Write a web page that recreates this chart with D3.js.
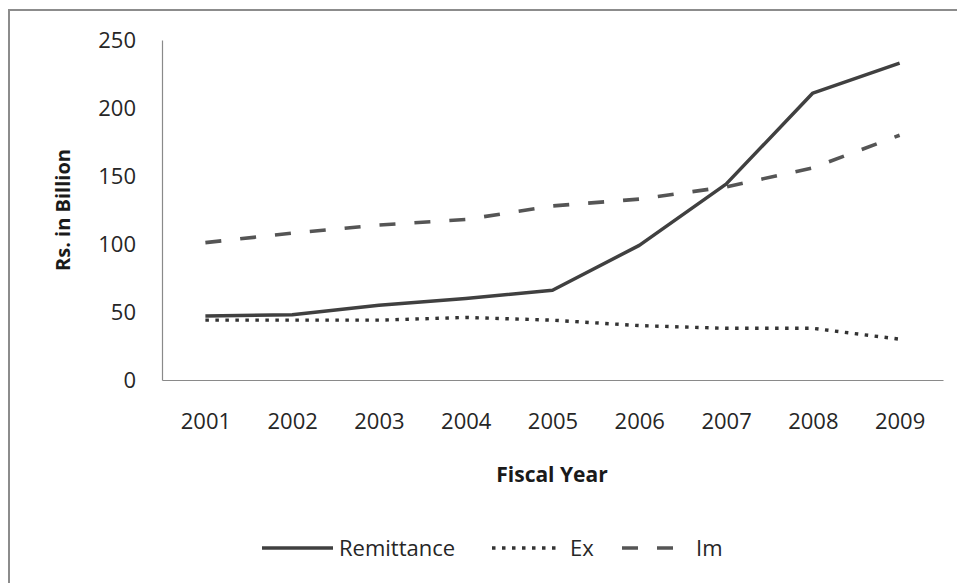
<!DOCTYPE html>
<html><head><meta charset="utf-8">
<script src="https://cdn.jsdelivr.net/npm/d3@7"></script>
<style>
html,body{margin:0;padding:0;background:#fff;}
svg{display:block;font-family:"Open Sans",sans-serif;}
</style></head>
<body><svg id="c" width="957" height="583"></svg>
<script>
const years = ["2001","2002","2003","2004","2005","2006","2007","2008","2009"];
const remittance = [47, 48, 55, 60, 66, 99, 144, 211, 233];
const exportsEx = [44, 44, 44, 46, 44, 40, 38, 38, 30];
const importsIm = [101, 108, 114, 118, 128, 133, 142, 156, 180];
const yTicks = [0, 50, 100, 150, 200, 250];
const seriesNames = ["Remittance", "Ex", "Im"];

const svg = d3.select("#c");
svg.append("path").attr("d","M9,583 V10 H957").attr("fill","none").attr("stroke","#8c8c8c").attr("stroke-width",2);

const x = d3.scalePoint().domain(years).range([162, 943]).padding(0.5);
const y = d3.scaleLinear().domain([0, 250]).range([380, 40]);

const fs = 22;
const gy = svg.append("g").attr("transform","translate(162,0)")
  .call(d3.axisLeft(y).tickValues(yTicks).tickSize(0).tickPadding(26));
const gx = svg.append("g").attr("transform","translate(0,380)")
  .call(d3.axisBottom(x).tickSize(0).tickPadding(33));
[gx, gy].forEach(g => {
  g.select(".domain").attr("stroke","#8a8a8a").attr("stroke-width",1.2);
  g.selectAll("text").attr("font-size",fs).attr("fill","#262626").attr("font-family","'Open Sans', sans-serif");
});

svg.append("text").attr("x",552).attr("y",482).attr("text-anchor","middle")
  .attr("font-size",21).attr("font-weight","bold").attr("fill","#1a1a1a").text("Fiscal Year");
svg.append("text").attr("transform","translate(70,210) rotate(-90)").attr("text-anchor","middle")
  .attr("font-size",20).attr("font-weight","bold").attr("fill","#1a1a1a").text("Rs. in Billion");

const styles = [
  {data: remittance, color:"#404040", w:3.5, dash:null},
  {data: exportsEx, color:"#333333", w:3.4, dash:"3.5,6.5"},
  {data: importsIm, color:"#555555", w:3.6, dash:"16,19"}
];
const line = d3.line().x((d,i)=>x(years[i])).y(d=>y(d));
styles.slice().reverse().forEach(s => {
  svg.append("path").datum(s.data).attr("d", line).attr("fill","none")
    .attr("stroke", s.color).attr("stroke-width", s.w)
    .attr("stroke-dasharray", s.dash).attr("stroke-linejoin","round");
});

const leg = [
  {name: seriesNames[0], x1:262, x2:333, tx:339, s:styles[0]},
  {name: seriesNames[1], x1:492, x2:556, tx:570, s:styles[1]},
  {name: seriesNames[2], x1:622, x2:678, tx:696, s:styles[2]}
];
leg.forEach(l => {
  svg.append("line").attr("x1",l.x1).attr("x2",l.x2).attr("y1",548).attr("y2",548)
    .attr("stroke",l.s.color).attr("stroke-width",l.s.w).attr("stroke-dasharray",l.s.dash);
  svg.append("text").attr("x",l.tx).attr("y",548).attr("dy","0.35em").attr("font-size",fs)
    .attr("fill","#262626").text(l.name);
});
</script></body></html>
